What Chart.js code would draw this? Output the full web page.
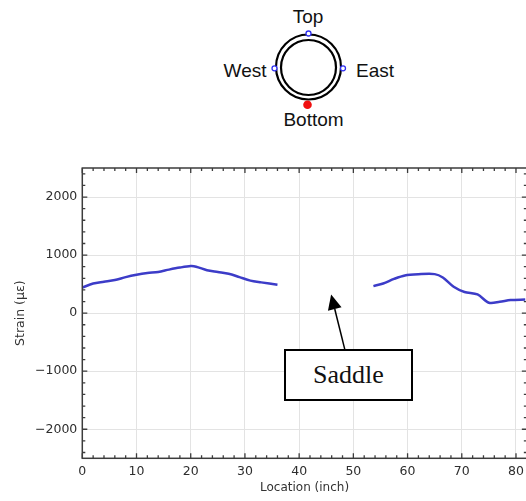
<!DOCTYPE html>
<html>
<head>
<meta charset="utf-8">
<script src="https://cdn.jsdelivr.net/npm/chart.js@4/dist/chart.umd.min.js"></script>
<style>
  html, body { margin: 0; padding: 0; background: #fff; width: 526px; height: 501px; overflow: hidden; }
  #wrap { position: relative; width: 526px; height: 501px; overflow: hidden; }
  #pipe { position: absolute; left: 0; top: 0; }
  #strainChart { position: absolute; left: 0; top: 150px; }
  #saddle {
    position: absolute; left: 284px; top: 349px; width: 129px; height: 52px;
    box-sizing: border-box; border: 2px solid #000; background: #fff;
    display: flex; align-items: center; justify-content: center;
    font-family: "Liberation Serif", "Times New Roman", serif; font-size: 26px; color: #111;
  }
</style>
</head>
<body>
<div id="wrap">
  <svg id="pipe" width="526" height="140" font-family="Liberation Sans, Arial, sans-serif" font-size="19" fill="#111">
    <circle cx="308.5" cy="67" r="32.5" fill="none" stroke="#000" stroke-width="2.2"/>
    <circle cx="308.5" cy="67.5" r="27.5" fill="none" stroke="#000" stroke-width="2.2"/>
    <circle cx="308.5" cy="33.5" r="2.5" fill="#fff" stroke="#3030f0" stroke-width="1.3"/>
    <circle cx="274.5" cy="68.3" r="2.5" fill="#fff" stroke="#3030f0" stroke-width="1.3"/>
    <circle cx="343" cy="68.3" r="2.5" fill="#fff" stroke="#3030f0" stroke-width="1.3"/>
    <circle cx="307.5" cy="104.7" r="4.3" fill="#f01010"/>
    <text x="308" y="23" text-anchor="middle">Top</text>
    <text x="266.5" y="76.5" text-anchor="end">West</text>
    <text x="356" y="76.5">East</text>
    <text x="313.5" y="126" text-anchor="middle">Bottom</text>
  </svg>
  <canvas id="strainChart" width="530" height="351"></canvas>
  <div id="saddle">Saddle</div>
</div>
<script>
// strain along the pipe, two gauge runs either side of the saddle
const westLoc    = [0, 2, 4, 6, 8, 10, 12, 14, 16, 18, 20, 21, 23, 25, 27, 29, 31, 33, 36];
const westStrain = [440, 510, 540, 570, 620, 660, 690, 710, 750, 785, 810, 800, 740, 710, 680, 620, 560, 530, 490];
const eastLoc    = [53.7, 55.5, 57.5, 59.5, 62, 65, 66.5, 68.5, 70.5, 72.9, 75, 77, 79, 81.7];
const eastStrain = [466, 510, 590, 650, 670, 672, 615, 455, 365, 322, 180, 195, 225, 235];

const xTicks = [0, 10, 20, 30, 40, 50, 60, 70, 80];
const yTicks = [-2000, -1000, 0, 1000, 2000];
const xRange = [0, 82];
const yRange = [-2500, 2500];

// annotation arrow: tail near the box, tip in the gap
const arrowTail = [48.5, -655];
const arrowTip  = [45.9, 322];

const points = westLoc.map((x, i) => ({ x, y: westStrain[i] }))
  .concat([{ x: 45, y: null }])
  .concat(eastLoc.map((x, i) => ({ x, y: eastStrain[i] })));

const axisColor = '#3c3c3c';

const frameTicks = {
  id: 'frameTicks',
  afterDatasetsDraw(chart) {
    const { ctx, scales: { x, y } } = chart;
    const tx = x.getPixelForValue(arrowTail[0]), ty = y.getPixelForValue(arrowTail[1]);
    const hx = x.getPixelForValue(arrowTip[0]), hy = y.getPixelForValue(arrowTip[1]);
    const ang = Math.atan2(hy - ty, hx - tx);
    const len = 15, half = 7;
    const bx = hx - len * Math.cos(ang), by = hy - len * Math.sin(ang);
    ctx.save();
    ctx.strokeStyle = '#000';
    ctx.fillStyle = '#000';
    ctx.lineWidth = 1.5;
    ctx.beginPath();
    ctx.moveTo(tx, ty);
    ctx.lineTo(bx, by);
    ctx.stroke();
    ctx.beginPath();
    ctx.moveTo(hx, hy);
    ctx.lineTo(bx + half * Math.sin(ang), by - half * Math.cos(ang));
    ctx.lineTo(bx - half * Math.sin(ang), by + half * Math.cos(ang));
    ctx.closePath();
    ctx.fill();
    ctx.restore();
  },
  afterDraw(chart) {
    const { ctx, chartArea: a, scales: { x, y } } = chart;
    ctx.save();
    ctx.strokeStyle = axisColor;
    ctx.lineWidth = 1.5;
    ctx.strokeRect(a.left, a.top, a.right - a.left, a.bottom - a.top);
    ctx.lineWidth = 1.3;
    ctx.beginPath();
    // inward ticks, minor every 2 inch / 200 µε
    for (let v = 0; v <= xRange[1]; v += 2) {
      const px = x.getPixelForValue(v);
      const l = v % 10 === 0 ? 5 : 3;
      ctx.moveTo(px, a.bottom); ctx.lineTo(px, a.bottom - l);
      ctx.moveTo(px, a.top); ctx.lineTo(px, a.top + l);
    }
    for (let v = -2400; v <= 2400; v += 200) {
      const py = y.getPixelForValue(v);
      const l = v % 1000 === 0 ? 5 : 3;
      ctx.moveTo(a.left, py); ctx.lineTo(a.left + l, py);
      ctx.moveTo(a.right, py); ctx.lineTo(a.right - l, py);
    }
    ctx.stroke();
    ctx.restore();
  }
};

const tickFont = { family: 'DejaVu Sans', size: 12.5 };
const minus = v => String(v).replace('-', '\u2212');

new Chart(document.getElementById('strainChart'), {
  type: 'line',
  data: {
    datasets: [{
      data: points,
      borderColor: '#3c3cc8',
      borderWidth: 2.5,
      pointRadius: 0,
      tension: 0.3,
      spanGaps: false
    }]
  },
  options: {
    responsive: false,
    animation: false,
    layout: { padding: { top: 18, right: 2, left: 0, bottom: 0 } },
    plugins: { legend: { display: false }, tooltip: { enabled: false } },
    scales: {
      x: {
        type: 'linear',
        min: xRange[0], max: xRange[1],
        afterBuildTicks: s => { s.ticks = xTicks.map(value => ({ value })); },
        afterFit: s => { s.height = 42.7; },
        grid: { color: '#e3e3e3', lineWidth: 1, drawTicks: false },
        border: { display: false },
        ticks: { font: tickFont, color: '#2e2e2e', padding: 6, maxRotation: 0 },
        title: {
          display: true, text: 'Location (inch)',
          font: { family: 'DejaVu Sans', size: 12 }, color: '#333',
          padding: { top: 0, bottom: 6 }
        }
      },
      y: {
        min: yRange[0], max: yRange[1],
        afterBuildTicks: s => { s.ticks = yTicks.map(value => ({ value })); },
        afterFit: s => { s.width = 82.3; },
        grid: { color: '#e3e3e3', lineWidth: 1, drawTicks: false },
        border: { display: false },
        ticks: { font: tickFont, color: '#2e2e2e', padding: 5, callback: v => minus(v) },
        title: {
          display: true, text: 'Strain (\u03bc\u03b5)',
          font: { family: 'DejaVu Sans', size: 12.5 }, color: '#333',
          padding: { top: 13, bottom: 0 }
        }
      }
    }
  },
  plugins: [frameTicks]
});
</script>
</body>
</html>
